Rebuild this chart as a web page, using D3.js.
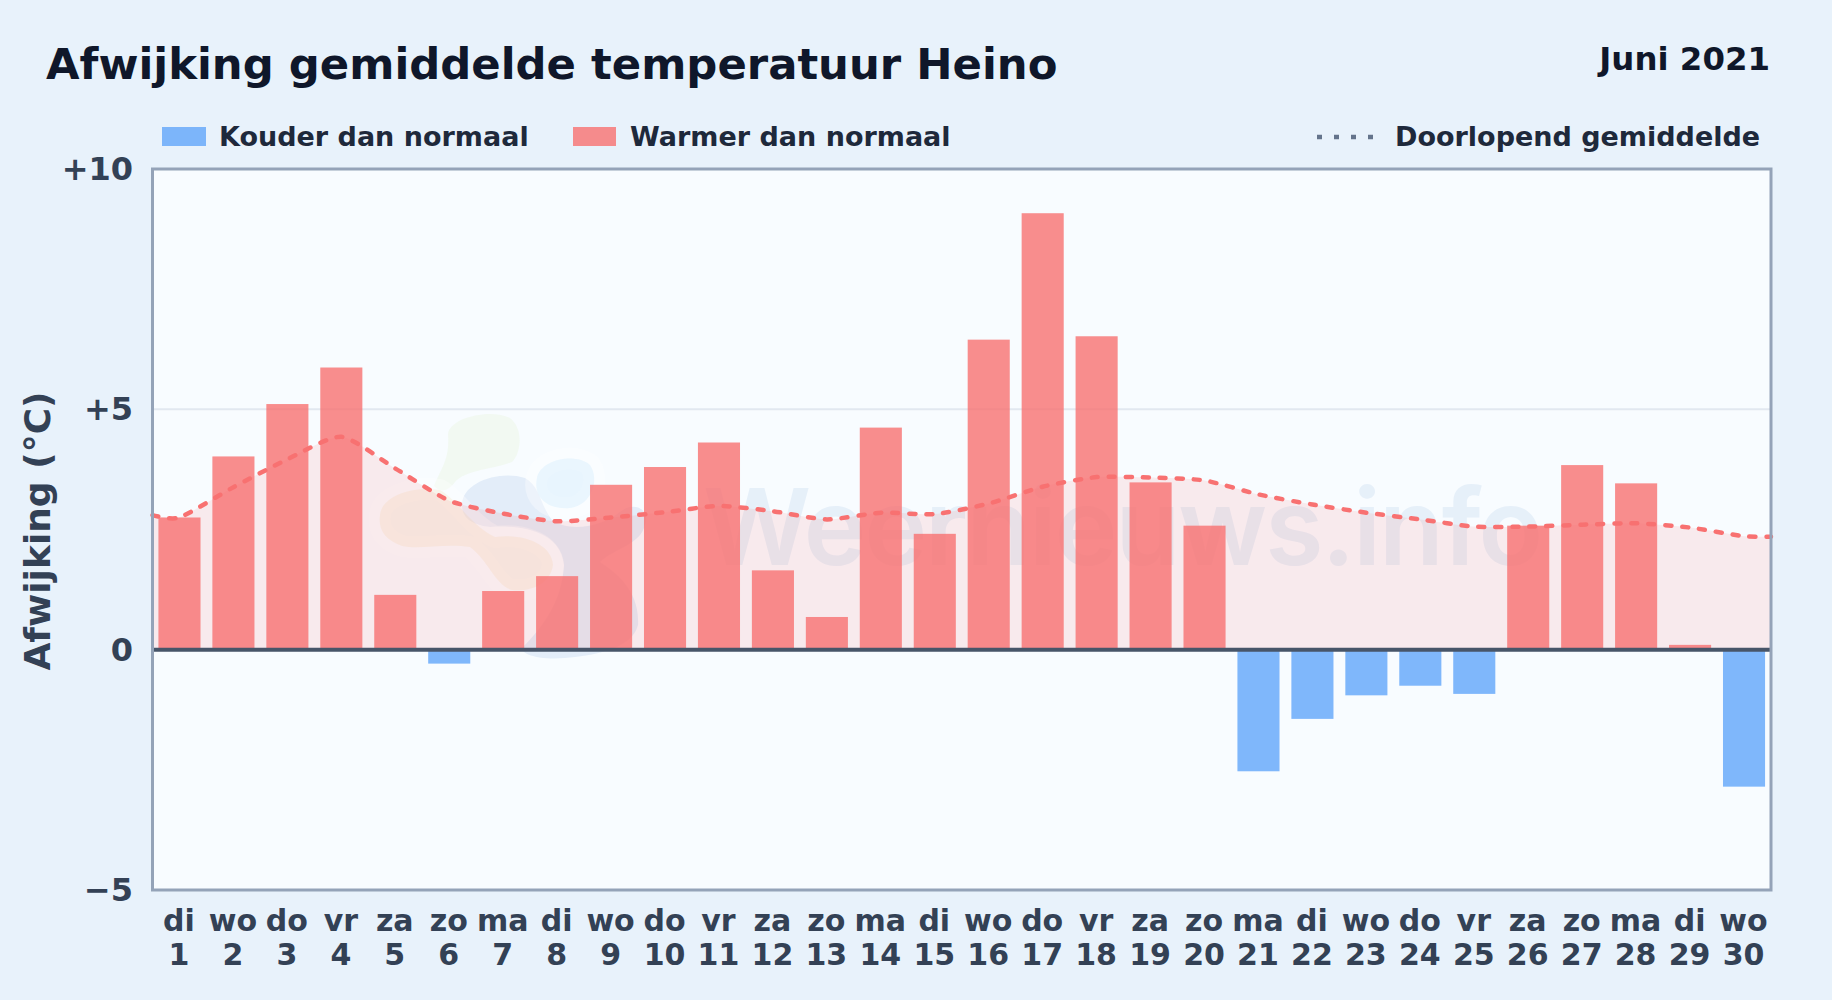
<!DOCTYPE html>
<html><head><meta charset="utf-8">
<script src="https://d3js.org/d3.v7.min.js"></script>
<style>
html,body{margin:0;padding:0;background:#e8f2fb;}
svg{display:block;font-family:"DejaVu Sans",sans-serif;font-weight:700;}
</style></head><body>
<svg id="c" width="1832" height="1000"></svg>
<script>
const dayNames=["di","wo","do","vr","za","zo","ma","di","wo","do","vr","za","zo","ma","di","wo","do","vr","za","zo","ma","di","wo","do","vr","za","zo","ma","di","wo"];
const days=d3.range(1,31);
const deviations=[2.75,4.02,5.11,5.87,1.14,-0.29,1.22,1.53,3.43,3.80,4.31,1.65,0.68,4.62,2.41,6.45,9.08,6.52,3.48,2.58,-2.53,-1.44,-0.95,-0.75,-0.92,2.58,3.84,3.46,0.10,-2.85];
const runningX=[0.5,1,2,3,4,5,6,7,8,9,10,11,12,13,14,15,16,17,18,19,20,21,22,23,24,25,26,27,28,29,30,30.5];
const runningAvg=[2.80,2.75,3.38,3.96,4.43,3.77,3.10,2.83,2.67,2.75,2.86,2.99,2.88,2.71,2.85,2.82,3.04,3.39,3.59,3.58,3.52,3.23,3.02,2.85,2.71,2.56,2.56,2.60,2.63,2.54,2.36,2.35];
const yTicks=[-5,0,5,10];
const yLabels=["−5","0","+5","+10"];
const legendItems=["Kouder dan normaal","Warmer dan normaal","Doorlopend gemiddelde"];

const svg=d3.select("#c");
const L=152.5,R=1771,T=169,B=890;
svg.append("rect").attr("width",1832).attr("height",1000).attr("fill","#e8f2fb");

const x=d3.scaleLinear().domain([0.5,30.5]).range([L,R]);
const y=d3.scaleLinear().domain([-5,10]).range([B,T]);
const barW=(x(2)-x(1))*0.78;

svg.append("rect").attr("x",L).attr("y",T).attr("width",R-L).attr("height",B-T).attr("fill","#f8fcff");

// watermark
const wm=svg.append("g").attr("class","watermark");
const blob=(d,c,o,h)=>{ if(h) wm.append("path").attr("d",d).attr("fill","none").attr("stroke","#ffffff").attr("stroke-opacity",h).attr("stroke-width",22).attr("stroke-linejoin","round");
  wm.append("path").attr("d",d).attr("fill",c).attr("opacity",o);};
blob("M462 505C462 482 500 470 525 478C540 486 540 505 552 520C568 532 600 528 620 512C635 500 650 510 645 525C640 545 615 548 600 562C615 572 640 590 638 625C632 650 590 656 565 658C540 660 522 655 522 648C545 625 562 600 564 565C560 530 520 525 490 527C475 525 462 520 462 505Z","#8fb6e0",0.2);
blob("M448 435C448 418 490 408 510 418C525 430 520 455 512 462C490 470 465 470 455 482C445 495 438 490 434 486C440 470 450 460 448 435Z","#d3eab0",0.16);
blob("M537 478C540 460 575 452 590 465C600 480 592 505 570 508C545 510 533 495 537 478Z","#b0defb",0.22,0.35);
blob("M380 515C382 495 415 486 440 490C458 500 470 525 495 537C525 533 552 545 553 565C550 585 530 592 512 590C495 585 488 560 470 547C445 543 420 550 402 546C385 540 378 530 380 515Z","#f2d9a8",0.22,0.35);
wm.append("text").attr("x",703).attr("y",565).attr("textLength",840).attr("lengthAdjust","spacing")
  .style("font-family","Inter").style("font-weight",600).attr("font-size",106).attr("fill","#8cb4e0").attr("opacity",0.16).text("Weernieuws.info");

// running mean area + bars + line
const curve=d3.curveCardinal.tension(0.35);
const area=d3.area().x((d,i)=>x(runningX[i])).y0(y(0)).y1(d=>y(d)).curve(curve);
svg.append("path").datum(runningAvg).attr("d",area).attr("fill","#f87171").attr("fill-opacity",0.13);

svg.append("line").attr("x1",L).attr("x2",R).attr("y1",y(5)).attr("y2",y(5)).attr("stroke","#e2e8f0").attr("stroke-width",2);

svg.append("g").selectAll("rect").data(deviations).join("rect")
 .attr("x",(d,i)=>x(days[i])-barW/2).attr("width",barW)
 .attr("y",d=>y(Math.max(0,d))).attr("height",d=>Math.abs(y(d)-y(0)))
 .attr("fill",d=>d<0?"#60a5fa":"#f87171").attr("fill-opacity",0.8);

const line=d3.line().x((d,i)=>x(runningX[i])).y(d=>y(d)).curve(curve);
svg.append("path").datum(runningAvg).attr("d",line).attr("fill","none").attr("stroke","#f87171").attr("stroke-width",4.5).attr("stroke-linecap","round").attr("stroke-dasharray","6 11");

svg.append("line").attr("x1",L).attr("x2",R).attr("y1",y(0)).attr("y2",y(0)).attr("stroke","#475569").attr("stroke-width",4);
svg.append("rect").attr("x",L).attr("y",T).attr("width",R-L).attr("height",B-T).attr("fill","none").attr("stroke","#94a3b8").attr("stroke-width",3);

// y ticks
svg.append("g").selectAll("text").data(yTicks).join("text")
 .attr("x",133).attr("y",d=>y(d)+11).attr("text-anchor","end").attr("font-size",32).attr("fill","#334155")
 .text((d,i)=>yLabels[i]);
svg.append("text").attr("transform","translate(50,531) rotate(-90)").attr("text-anchor","middle").attr("font-size",36).attr("fill","#334155").text("Afwijking (°C)");

// x labels
const xl=svg.append("g").selectAll("g").data(days).join("g");
xl.append("text").attr("x",d=>x(d)-0.5).attr("y",931).attr("text-anchor","middle").attr("font-size",30).attr("fill","#334155").text((d,i)=>dayNames[i]);
xl.append("text").attr("x",d=>x(d)-0.5).attr("y",965).attr("text-anchor","middle").attr("font-size",30).attr("fill","#334155").text(d=>d);

// title
svg.append("text").attr("x",46).attr("y",79).attr("font-size",43.35).attr("fill","#0f172a").text("Afwijking gemiddelde temperatuur Heino");
svg.append("text").attr("x",1770).attr("y",70).attr("text-anchor","end").attr("font-size",32.4).attr("fill","#0f172a").text("Juni 2021");

// legend
svg.append("rect").attr("x",162).attr("y",127).attr("width",44).attr("height",19).attr("fill","#60a5fa").attr("fill-opacity",0.8);
svg.append("text").attr("x",219).attr("y",146).attr("font-size",27).attr("fill","#1e293b").text(legendItems[0]);
svg.append("rect").attr("x",573).attr("y",127).attr("width",43).attr("height",19).attr("fill","#f87171").attr("fill-opacity",0.8);
svg.append("text").attr("x",630).attr("y",146).attr("font-size",27).attr("fill","#1e293b").text(legendItems[1]);
svg.append("line").attr("x1",1317).attr("x2",1375).attr("y1",137).attr("y2",137).attr("stroke","#64748b").attr("stroke-width",4.5).attr("stroke-dasharray","5 12");
svg.append("text").attr("x",1395).attr("y",146).attr("font-size",27).attr("fill","#1e293b").text(legendItems[2]);
</script></body></html>
